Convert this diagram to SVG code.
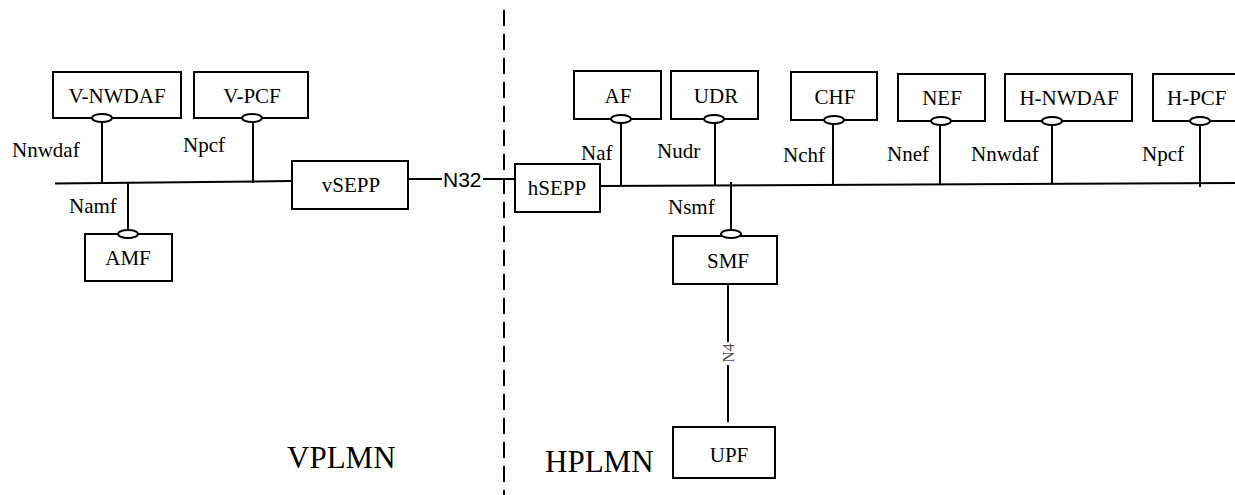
<svg xmlns="http://www.w3.org/2000/svg" width="1235" height="495" viewBox="0 0 1235 495">
<style>
.box{fill:#fff;stroke:#000;stroke-width:2}
.ov{fill:#fff;stroke:#000;stroke-width:2}
.ln{stroke:#000;stroke-width:2;fill:none}
.t{font-family:"Liberation Serif","Times New Roman",serif;font-size:21px;fill:#000}
.c{text-anchor:middle}
.big{font-family:"Liberation Serif","Times New Roman",serif;font-size:31px;fill:#000}
.s{font-family:"Liberation Sans",Arial,sans-serif;font-size:21px;fill:#000}
</style>
<rect width="1235" height="495" fill="#fff"/>
<g id="connectors">
<line class="ln" x1="504" y1="10" x2="504" y2="495" stroke-dasharray="16 8"/>
<line class="ln" x1="55" y1="183.5" x2="292" y2="181"/>
<line class="ln" x1="102" y1="122" x2="102" y2="183"/>
<line class="ln" x1="253" y1="122" x2="253" y2="183"/>
<line class="ln" x1="128" y1="182.5" x2="128" y2="230"/>
<line class="ln" x1="408" y1="179" x2="442" y2="179"/>
<line class="ln" x1="483" y1="179" x2="515" y2="179"/>
<line class="ln" x1="600" y1="186" x2="1235" y2="183"/>
<line class="ln" x1="621" y1="123" x2="621" y2="186"/>
<line class="ln" x1="715" y1="123" x2="715" y2="185.5"/>
<line class="ln" x1="833" y1="124" x2="833" y2="185"/>
<line class="ln" x1="940" y1="125" x2="940" y2="184.5"/>
<line class="ln" x1="1052" y1="125" x2="1052" y2="184"/>
<line class="ln" x1="1200" y1="125" x2="1200" y2="187"/>
<line class="ln" x1="731" y1="182" x2="731" y2="230"/>
<line class="ln" x1="728" y1="284" x2="728" y2="342"/>
<line class="ln" x1="728" y1="365" x2="728" y2="422"/>
<text x="728" y="353" transform="rotate(-90 728 353)" text-anchor="middle" dominant-baseline="central" font-family="'Liberation Serif','Times New Roman',serif" font-size="16" fill="#555">N4</text>
<text class="s" x="443" y="187">N32</text>
<text class="t" x="12" y="157">Nnwdaf</text>
<text class="t" x="183" y="152">Npcf</text>
<text class="t" x="69" y="213">Namf</text>
<text class="t" x="581" y="160">Naf</text>
<text class="t" x="657" y="158">Nudr</text>
<text class="t" x="783" y="162">Nchf</text>
<text class="t" x="887" y="161">Nnef</text>
<text class="t" x="971" y="161">Nnwdaf</text>
<text class="t" x="1142" y="161">Npcf</text>
<text class="t" x="668" y="214">Nsmf</text>
</g>
<g id="v-nwdaf"><rect class="box" x="53" y="72" width="128" height="46"/><text class="t c" x="117" y="103">V-NWDAF</text><ellipse class="ov" cx="102" cy="118" rx="10" ry="4"/></g>
<g id="v-pcf"><rect class="box" x="194" y="72" width="114" height="46"/><text class="t c" x="252" y="103">V-PCF</text><ellipse class="ov" cx="252" cy="118" rx="10" ry="4"/></g>
<g id="amf"><rect class="box" x="85" y="234" width="87" height="47"/><text class="t c" x="128" y="265">AMF</text><ellipse class="ov" cx="128" cy="234" rx="10" ry="4"/></g>
<g id="vsepp"><rect class="box" x="292" y="161" width="116" height="48"/><text class="t c" x="351" y="192">vSEPP</text></g>
<g id="hsepp"><rect class="box" x="515" y="164" width="85" height="48"/><text class="t c" x="557" y="195">hSEPP</text></g>
<g id="af"><rect class="box" x="574" y="71" width="87" height="48"/><text class="t c" x="618" y="103">AF</text><ellipse class="ov" cx="621" cy="119" rx="10" ry="4"/></g>
<g id="udr"><rect class="box" x="671" y="71" width="87" height="48"/><text class="t c" x="716" y="103">UDR</text><ellipse class="ov" cx="714" cy="119" rx="10" ry="4"/></g>
<g id="chf"><rect class="box" x="791" y="72" width="86" height="48"/><text class="t c" x="835" y="104">CHF</text><ellipse class="ov" cx="834" cy="120" rx="10" ry="4"/></g>
<g id="nef"><rect class="box" x="898" y="74" width="87" height="47"/><text class="t c" x="942" y="105">NEF</text><ellipse class="ov" cx="941" cy="121" rx="10" ry="4"/></g>
<g id="h-nwdaf"><rect class="box" x="1005" y="74" width="127" height="47"/><text class="t c" x="1069" y="105">H-NWDAF</text><ellipse class="ov" cx="1052" cy="121" rx="10" ry="4"/></g>
<g id="h-pcf"><rect class="box" x="1153" y="74" width="90" height="47"/><text class="t" x="1167" y="105">H-PCF</text><ellipse class="ov" cx="1200" cy="121" rx="10" ry="4"/></g>
<g id="smf"><rect class="box" x="673" y="236" width="104" height="48"/><text class="t c" x="728" y="268">SMF</text><ellipse class="ov" cx="731" cy="234" rx="10" ry="4"/></g>
<g id="upf"><rect class="box" x="673" y="427" width="102" height="51"/><text class="t c" x="729" y="462">UPF</text></g>
<text class="big" x="287" y="468">VPLMN</text>
<text class="big" x="545" y="472">HPLMN</text>
</svg>
